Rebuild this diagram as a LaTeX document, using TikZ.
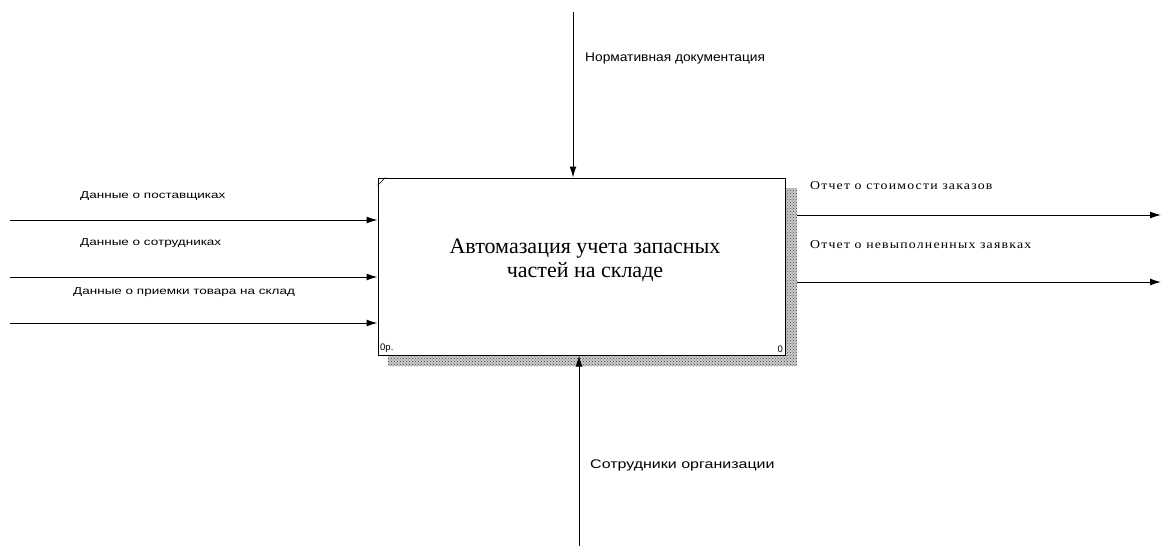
\documentclass[tikz,border=0pt]{standalone}
\usepackage{fontspec}
\setmainfont{Liberation Serif}
\newfontfamily\inputfont[FakeStretch=1.35]{Liberation Sans}
\newfontfamily\ctlfont[FakeStretch=1.1]{Liberation Sans}
\newfontfamily\mechfont[FakeStretch=1.28]{Liberation Sans}
\newfontfamily\widefont[FakeStretch=1.15,LetterSpace=10]{Liberation Serif}
\newfontfamily\arialfont{Liberation Sans}
\usetikzlibrary{arrows.meta,patterns}

\tikzset{
  arr/.style={-{Latex[length=11pt,width=7pt]}, line width=1pt},
  lbl/.style={font=\inputfont\fontsize{10}{12}\selectfont, anchor=west, inner sep=0pt},
  outlbl/.style={font=\widefont\fontsize{12}{13}\selectfont, anchor=west, inner sep=0pt},
  funcbox/.style={draw, line width=1pt, minimum width=407pt, minimum height=177pt, inner sep=0pt},
  shadow/.style={fill=black!20, postaction={pattern=crosshatch dots, pattern color=black!75}}
}

\begin{document}
\begin{tikzpicture}[x=1pt, y=-1pt]
  \useasboundingbox (0,0) rectangle (1161,546);
  % shadow of the activity box
  \path[shadow] (786,188) rectangle (797,366);
  \path[shadow] (388,356) rectangle (786,366);
  \node[funcbox, fill=white] (func) at (581.5,266.5) {};
  \node[align=center, font=\fontsize{22}{24}\selectfont, inner sep=0pt] (title) at (585,260)
    {Автомазация учета запасных\\частей на складе};
  \draw (func.north west) ++(0,8) -- ++(8,-8);
  \node[font=\arialfont\fontsize{9.5}{10}\selectfont, anchor=south west, inner sep=2.5pt] (num) at (func.south west) {0р.};
  \node[font=\arialfont\fontsize{9.5}{10}\selectfont, anchor=south east, inner sep=2.5pt] (idx) at (func.south east) {0};

  % inputs
  \coordinate (in1) at (10,220);
  \coordinate (in2) at (10,277);
  \coordinate (in3) at (10,323);
  \draw[arr] (in1) -- (in1 -| func.west);
  \draw[arr] (in2) -- (in2 -| func.west);
  \draw[arr] (in3) -- (in3 -| func.west);
  \node[lbl] (l1) at (80,196) {Данные о поставщиках};
  \node[lbl] (l2) at (80,243) {Данные о сотрудниках};
  \node[lbl] (l3) at (73,292) {Данные о приемки товара на склад};

  % control
  \coordinate (ctl) at (573,12);
  \draw[arr] (ctl) -- (ctl |- func.north);
  \node[lbl, font=\ctlfont\fontsize{12.5}{14}\selectfont] (lc) at (585,58) {Нормативная документация};

  % mechanism
  \coordinate (mech) at (579,546);
  \draw[arr] (mech) -- (mech |- func.south);
  \node[lbl, font=\mechfont\fontsize{12.5}{14}\selectfont] (lm) at (590,465) {Сотрудники организации};

  % outputs
  \coordinate (o1) at (797,215);
  \coordinate (o2) at (797,282);
  \draw[arr] (o1) -- (1161,215);
  \draw[arr] (o2) -- (1161,282);
  \node[outlbl] (lo1) at (810,186) {Отчет о стоимости заказов};
  \node[outlbl] (lo2) at (810,245) {Отчет о невыполненных заявках};
\end{tikzpicture}
\end{document}
